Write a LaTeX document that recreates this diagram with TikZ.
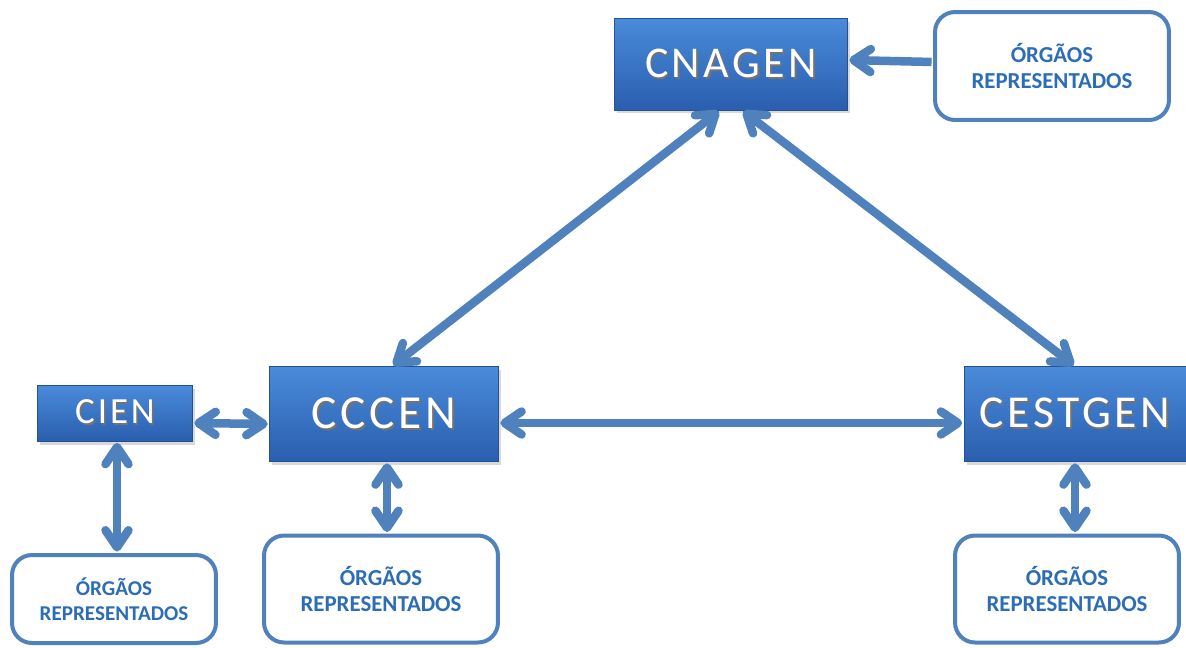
\documentclass[tikz,border=0pt]{standalone}
\usepackage{fontspec}
\setmainfont{Carlito}
\newfontfamily\titulofont[LetterSpace=8]{Carlito}
\usetikzlibrary{arrows.meta,shadows}
\definecolor{azulseta}{HTML}{4F81BD}
\definecolor{azultopo}{HTML}{4A8BDA}
\definecolor{azulbase}{HTML}{2A5EAE}
\definecolor{azultexto}{HTML}{2C6DB5}
% texto branco com sombra escura
\newcommand{\sombreado}[1]{\makebox[0pt][l]{\hspace{0.9pt}\raisebox{-1.1pt}{\textcolor{black!55}{#1}}}#1}

\begin{document}
\begin{tikzpicture}[x=0.02cm,y=-0.02cm,
    conselho/.style={rectangle,top color=azultopo,bottom color=azulbase,draw=azulbase!85!black,line width=0.4pt,text=white,
      drop shadow={opacity=0.3,shadow xshift=0.05cm,shadow yshift=-0.07cm}},
    orgaos/.style={rectangle,rounded corners=0.4cm,draw=azulseta,line width=0.08cm,fill=white,text=azultexto,align=center,
      font=\bfseries\fontsize{13}{15}\selectfont},
    ligacao/.style={draw=azulseta,line width=0.17cm,{Straight Barb[round,length=0.34cm,width=0.46cm]}-{Straight Barb[round,length=0.34cm,width=0.46cm]},
      shorten <=0.03cm,shorten >=0.03cm}]
    \useasboundingbox (0,0) rectangle (1186,647);
    \clip (0,0) rectangle (1186,647);

    \node[conselho,minimum width=4.66cm,minimum height=1.84cm,font=\titulofont\fontsize{25}{30}\selectfont] (cnagen) at (731,64) {\sombreado{CNAGEN}};
    \node[conselho,minimum width=3.10cm,minimum height=1.12cm,font=\titulofont\fontsize{21}{26}\selectfont] (cien) at (115,413) {\sombreado{CIEN}};
    \node[conselho,minimum width=4.58cm,minimum height=1.90cm,font=\titulofont\fontsize{27}{30}\selectfont] (cccen) at (384,414) {\sombreado{CCCEN}};
    \node[conselho,minimum width=4.44cm,minimum height=1.90cm,font=\titulofont\fontsize{26}{30}\selectfont] (cestgen) at (1075,414) {\sombreado{CESTGEN}};

    \node[orgaos,minimum width=4.68cm,minimum height=2.16cm] (orgtopo) at (1052,66) {ÓRGÃOS\\REPRESENTADOS};
    \node[orgaos,minimum width=4.08cm,minimum height=1.76cm,font=\bfseries\fontsize{12}{14}\selectfont] (orgcien) at (114,599) {ÓRGÃOS\\REPRESENTADOS};
    \node[orgaos,minimum width=4.68cm,minimum height=2.14cm] (orgcccen) at (381,589) {ÓRGÃOS\\REPRESENTADOS};
    \node[orgaos,minimum width=4.48cm,minimum height=2.14cm] (orgcestgen) at (1067,589) {ÓRGÃOS\\REPRESENTADOS};

    % ligacoes
    \draw[ligacao,-{Straight Barb[round,length=0.34cm,width=0.46cm]}] ([yshift=0.08cm]orgtopo.west) -- ([yshift=0.08cm]cnagen.east);
    \draw[ligacao] ([xshift=-0.22cm]cnagen.south) -- ([xshift=0.16cm]cccen.north);
    \draw[ligacao] ([xshift=0.22cm]cnagen.south) -- (cestgen.north);

    \draw[ligacao] ([yshift=-0.2cm]cien.east) -- ([yshift=-0.2cm]cccen.west);
    \draw[ligacao] ([yshift=-0.18cm]cccen.east) -- ([yshift=-0.18cm]cestgen.west);

    \draw[ligacao] ([xshift=0.04cm]cien.south) -- ([xshift=0.04cm]cien.south |- orgcien.north);
    \draw[ligacao] ([xshift=0.06cm]cccen.south) -- ([xshift=0.06cm]cccen.south |- orgcccen.north);
    \draw[ligacao] (cestgen.south) -- (cestgen.south |- orgcestgen.north);

\end{tikzpicture}
\end{document}
